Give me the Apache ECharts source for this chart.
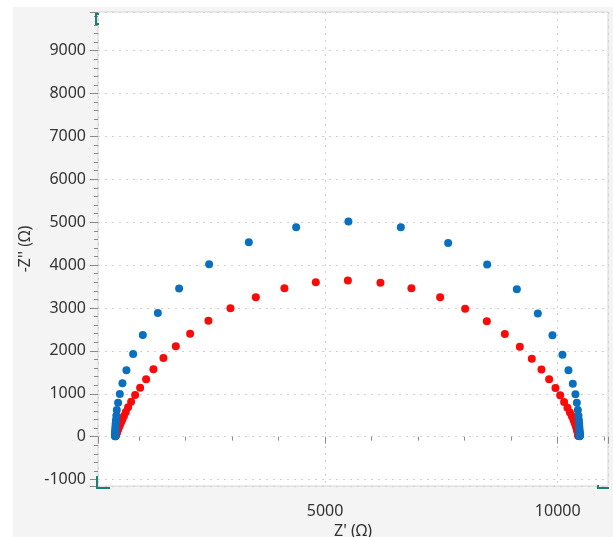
<!DOCTYPE html>
<html><head><meta charset="utf-8">
<style>html,body{margin:0;padding:0;background:#fff;}#c{width:613px;height:537px;}</style>
<script src="https://cdn.jsdelivr.net/npm/echarts@6/dist/echarts.min.js"></script>
</head><body><div id="c"></div>
<script>
// Blue series (ideal semicircle)
const blueX = [490,490,490,490,490,490,490,491,491,492,494,496,499,505,514,524,552,589,645,731,875,1083,1406,1863,2508,3361,4378,5502,
  6628,7645,8483,9121,9572,9886,10101,10230,10324,10380,10410,10432,10446,10455,10461,10464,10466,10468,10469,10470,10470,10470,10471,10471,10471,10471,10471];
const blueY = [8,13,20,30,44,58,72,90,115,146,186,237,302,385,490,623,793,996,1245,1549,1929,2372,2885,3452,4021,4534,4883,5014,
  4883,4517,4011,3437,2869,2364,1912,1549,1236,989,793,623,490,385,302,237,186,146,115,90,72,58,44,30,20,13,8];
// Red series (depressed semicircle)
const redX = [493,495,497,500,503,506,510,514,519,525,532,541,551,563,578,596,618,645,678,718,767,832,918,1025,1154,1311,1526,1792,2100,2493,2966,3512,4126,4801,5490,
  6190,6856,7473,8010,8476,8863,9185,9443,9650,9815,9951,10052,10137,10208,10262,10304,10336,10361,10380,10395,10406,10415,10422,10427,10431,10434,10437,10439,10441,10442,10443,10444];
const redY = [10,17,24,33,41,49,59,70,84,100,119,142,169,201,240,286,341,406,484,576,686,816,972,1143,1339,1572,1835,2108,2402,2705,2994,3251,3461,3601,3638,
  3591,3461,3251,2985,2691,2395,2099,1819,1563,1339,1136,965,809,676,566,474,397,332,278,233,195,163,137,114,96,80,67,56,45,35,25,15];
const xName = "Z' (Ω)";
const yName = "-Z'' (Ω)";

const zip = (xs, ys) => xs.map((x, i) => [x, ys[i]]);
const FONT = "'Noto Sans', 'DejaVu Sans', sans-serif";
const TEXT = '#333333';
const grid = {left: 98, top: 12, right: 5, bottom: 51, show: true, backgroundColor: '#ffffff', borderColor: '#d6d6d6', borderWidth: 1,
  containLabel: false, outerBoundsMode: 'none'};
const splitLine = {show: true, lineStyle: {color: '#cfcfcf', type: [2, 5], width: 1}};
const fmt = v => String(v);

const chart = echarts.init(document.getElementById('c'), null, {renderer: 'canvas'});
chart.setOption({
  animation: false,
  backgroundColor: '#ffffff',
  graphic: [
    {type: 'rect', z: -10, silent: true, shape: {x: 13, y: 7, width: 600, height: 530}, style: {fill: '#f4f4f4'}},
    {type: 'polyline', z: 100, shape: {points: [[99, 14], [96, 14], [96, 24], [99, 24]]}, style: {stroke: '#1b7f74', lineWidth: 2, fill: null}},
    {type: 'polyline', z: 100, shape: {points: [[97, 476], [97, 488], [110, 488]]}, style: {stroke: '#1b7f74', lineWidth: 2, fill: null}},
    {type: 'polyline', z: 100, shape: {points: [[598, 485], [598, 488], [609, 488]]}, style: {stroke: '#1b7f74', lineWidth: 2, fill: null}}
  ],
  grid: grid,
  xAxis: {
    type: 'value', min: 120, max: 11080, minInterval: 5000, maxInterval: 5000,
    name: xName, nameLocation: 'middle', nameGap: 29,
    nameTextStyle: {color: TEXT, fontSize: 16, fontFamily: FONT},
    axisLine: {show: false},
    axisTick: {show: true, length: 7, lineStyle: {color: '#8a8a8a'}},
    minorTick: {show: true, splitNumber: 5, length: 4, lineStyle: {color: '#8a8a8a'}},
    axisLabel: {color: TEXT, fontSize: 16, fontFamily: FONT, margin: 17, showMinLabel: false, showMaxLabel: false, formatter: fmt},
    splitLine: splitLine
  },
  yAxis: {
    type: 'value', min: -1150, max: 9900, minInterval: 1000, maxInterval: 1000,
    name: yName, nameLocation: 'middle', nameGap: 60, nameRotate: 90,
    nameTextStyle: {color: TEXT, fontSize: 16, fontFamily: FONT},
    axisLine: {show: false},
    axisTick: {show: true, length: 8, lineStyle: {color: '#8a8a8a'}},
    minorTick: {show: true, splitNumber: 5, length: 4, lineStyle: {color: '#8a8a8a'}},
    axisLabel: {color: TEXT, fontSize: 16, fontFamily: FONT, margin: 12, showMinLabel: false, showMaxLabel: false, formatter: fmt},
    splitLine: splitLine
  },
  series: [
    {type: 'scatter', name: 'red', data: zip(redX, redY), symbolSize: 8, itemStyle: {color: '#fb0a0a', opacity: 1}},
    {type: 'scatter', name: 'blue', data: zip(blueX, blueY), symbolSize: 8, itemStyle: {color: '#0b6fbf', opacity: 1}}
  ]
});
</script></body></html>
